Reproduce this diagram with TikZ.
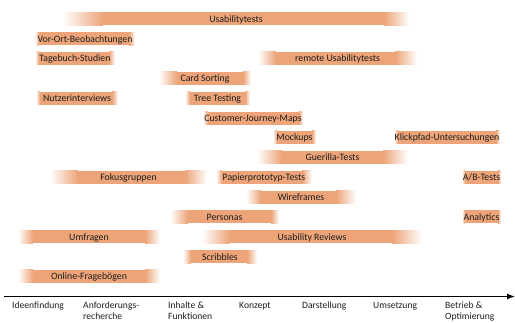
\documentclass[tikz,border=0pt]{standalone}
\usepackage{fontspec}
\setmainfont{Carlito}
\usetikzlibrary{arrows.meta}
\definecolor{barc}{RGB}{236,164,120}
\definecolor{txt}{RGB}{30,30,30}
\tikzset{
  bartext/.style={inner sep=0pt, anchor=base, text=txt, font=\fontsize{9.8}{11}\selectfont},
  phase/.style={inner sep=0pt, anchor=north west, align=left, text=txt, font=\fontsize{9.6}{10.6}\selectfont},
  axisline/.style={line width=1.2pt, draw=black, -{Latex[length=8pt,width=6pt]}}
}
% #1 name, #2 x1, #3 x2, #4 y centre, #5 left fade, #6 right fade, #7 text
\newcommand\mybar[7]{%
  \fill[barc] ({#2+#5-0.4},{#4-6.5}) rectangle ({#3-#6+0.4},{#4+6.5});
  \shade[left color=white, right color=barc] ({#2},{#4-6.5}) rectangle ({#2+#5},{#4+6.5});
  \shade[left color=barc, right color=white] ({#3-#6},{#4-6.5}) rectangle ({#3},{#4+6.5});
  \node[bartext] (#1) at ({(#2+#3)/2},{#4+3.3}) {#7};
}
\begin{document}
\begin{tikzpicture}[x=1pt,y=-1pt]
\useasboundingbox (0,0) rectangle (515,323);
\mybar{usab}{63}{409}{19}{40}{25}{Usabilitytests}
\mybar{vorort}{35}{135}{39}{4}{6}{Vor-Ort-Beobachtungen}
\mybar{tagebuch}{35}{115}{58.5}{4}{6}{Tagebuch-Studien}
\mybar{remote}{258}{417}{58.5}{18}{22}{remote Usabilitytests}
\mybar{card}{159}{251}{78.5}{18}{8}{Card Sorting}
\mybar{nutzer}{36}{118}{98.5}{4}{6}{Nutzerinterviews}
\mybar{tree}{185}{250}{98.5}{5}{5}{Tree Testing}
\mybar{cjm}{203}{303}{118.5}{5}{4}{Customer-Journey-Maps}
\mybar{mockups}{273}{316}{137.5}{4}{4}{Mockups}
\mybar{klick}{394}{500}{137.5}{4}{4}{Klickpfad-Untersuchungen}
\mybar{guerilla}{257}{408}{157.5}{25}{25}{Guerilla-Tests}
\mybar{fokus}{50}{207}{177.5}{28}{22}{Fokusgruppen}
\mybar{papier}{216}{312}{177.5}{6}{10}{Papierprototyp-Tests}
\mybar{ab}{462}{501}{177.5}{3}{3}{A/B-Tests}
\mybar{wire}{246}{356}{197.5}{15}{20}{Wireframes}
\mybar{personas}{170}{279}{217}{18}{8}{Personas}
\mybar{analytics}{462}{501}{217}{3}{3}{Analytics}
\mybar{umfragen}{18}{160}{237}{15}{15}{Umfragen}
\mybar{reviews}{202}{422}{237}{28}{30}{Usability Reviews}
\mybar{scribbles}{183}{257}{257}{8}{10}{Scribbles}
\mybar{online}{18}{160}{276.5}{15}{15}{Online-Fragebögen}
\coordinate (ax0) at (4,296.5);
\coordinate (ax1) at (515,296.5);
\draw[axisline] (ax0) -- (ax1);
\node[phase] (p1) at (12,302) {Ideenfindung};
\node[phase] (p2) at (83,302) {Anforderungs-\\recherche};
\node[phase] (p3) at (168,302) {Inhalte \&\\Funktionen};
\node[phase] (p4) at (239,302) {Konzept};
\node[phase] (p5) at (302,302) {Darstellung};
\node[phase] (p6) at (373,302) {Umsetzung};
\node[phase] (p7) at (445,302) {Betrieb \&\\Optimierung};
\end{tikzpicture}
\end{document}
